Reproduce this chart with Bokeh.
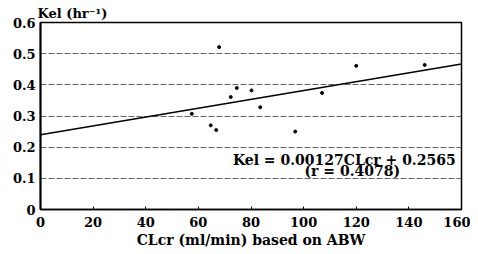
from bokeh.plotting import figure
from bokeh.models import Label, FixedTicker
from bokeh.embed import file_html
from bokeh.resources import INLINE

# Data
cl_cr = [57.5, 64.7, 66.8, 67.9, 72.3, 74.6, 80.2, 83.5, 96.8, 107.0, 120.0, 146.0]
kel = [0.307, 0.270, 0.255, 0.521, 0.361, 0.390, 0.382, 0.328, 0.250, 0.374, 0.461, 0.464]
fit_x = [0, 160]
fit_y = [0.240, 0.467]
x_ticks = [0, 20, 40, 60, 80, 100, 120, 140, 160]
y_ticks = [0, 0.1, 0.2, 0.3, 0.4, 0.5, 0.6]
y_tick_labels = {0: "0", 0.1: "0.1", 0.2: "0.2", 0.3: "0.3", 0.4: "0.4", 0.5: "0.5", 0.6: "0.6"}
eq_text = "Kel = 0.00127CLcr + 0.2565"
r_text = "(r = 0.4078)"
y_title = "Kel (hr\u207b\u00b9)"
x_title = "CLcr (ml/min) based on ABW"

FONT = "DejaVu Serif"

p = figure(width=470, height=250, x_range=(0, 160), y_range=(0, 0.6),
           output_backend="svg", toolbar_location=None,
           min_border_left=40, min_border_right=9, min_border_top=22, min_border_bottom=39)
p.background_fill_color = "white"
p.border_fill_color = "white"
p.outline_line_color = "black"
p.outline_line_width = 1.5

p.title.text = y_title
p.title.align = "left"
p.title.offset = -3
p.title.standoff = 4
p.title.text_font = FONT
p.title.text_font_style = "bold"
p.title.text_font_size = "13px"
p.title.text_color = "black"

p.xgrid.visible = False
p.ygrid.ticker = FixedTicker(ticks=[0.1, 0.2, 0.3, 0.4, 0.5])
p.ygrid.grid_line_color = "#666666"
p.ygrid.grid_line_dash = "6 2"
p.ygrid.grid_line_width = 1

p.xaxis.ticker = FixedTicker(ticks=x_ticks)
p.yaxis.ticker = FixedTicker(ticks=y_ticks)
p.yaxis.major_label_overrides = y_tick_labels
for ax in (p.xaxis, p.yaxis):
    ax.axis_line_color = "black"
    ax.major_label_text_font = FONT
    ax.major_label_text_font_style = "bold"
    ax.major_label_text_font_size = "13px"
    ax.major_label_text_color = "black"
    ax.minor_tick_line_color = None
p.yaxis.axis_line_width = 2
p.xaxis.axis_line_width = 1.5
p.xaxis.major_tick_in = 3
p.xaxis.major_tick_out = 0
p.xaxis.major_tick_line_color = "black"
p.yaxis.major_tick_in = 0
p.yaxis.major_tick_out = 0
p.xaxis.major_label_standoff = 7
p.yaxis.major_label_standoff = 5

p.xaxis.axis_label = x_title
p.xaxis.axis_label_text_font = FONT
p.xaxis.axis_label_text_font_style = "bold"
p.xaxis.axis_label_text_font_size = "14px"
p.xaxis.axis_label_text_color = "black"
p.xaxis.axis_label_standoff = 2

p.line(fit_x, fit_y, line_color="black", line_width=1.6)
p.scatter(cl_cr, kel, size=3, color="black")

p.add_layout(Label(x=157.8, y=0.160, text=eq_text, text_font=FONT, text_color="black",
                   text_font_style="bold", text_font_size="14px",
                   text_baseline="alphabetic", text_align="right"))
p.add_layout(Label(x=118.5, y=0.124, text=r_text, text_font=FONT, text_color="black",
                   text_font_style="bold", text_font_size="14px",
                   text_baseline="alphabetic", text_align="center"))

open("out.html", "w").write(file_html(p, INLINE))
